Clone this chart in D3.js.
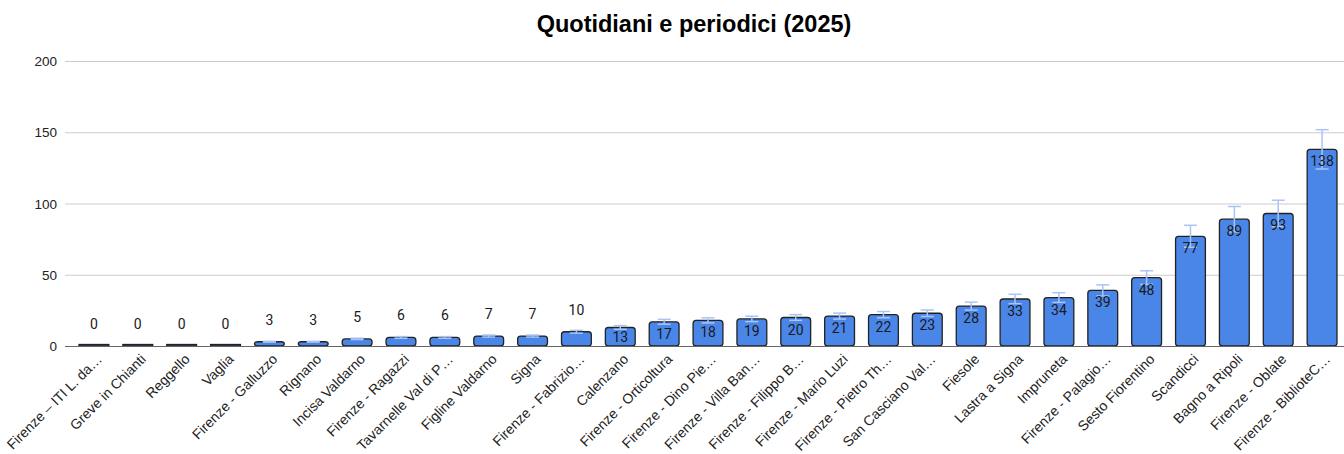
<!DOCTYPE html>
<html>
<head>
<meta charset="utf-8">
<script src="https://cdn.jsdelivr.net/npm/d3@7"></script>
<style>
  body { margin: 0; background: #fff; }
  svg { display: block; }
</style>
</head>
<body>
<svg id="chart" width="1344" height="454"></svg>
<script>
// data
const categories = [
    "Firenze – ITI L. da…", "Greve in Chianti", "Reggello", "Vaglia",
    "Firenze - Galluzzo", "Rignano", "Incisa Valdarno", "Firenze - Ragazzi",
    "Tavarnelle Val di P…", "Figline Valdarno", "Signa", "Firenze - Fabrizio…",
    "Calenzano", "Firenze - Orticoltura", "Firenze - Dino Pie…", "Firenze - Villa Ban…",
    "Firenze - Filippo B…", "Firenze - Mario Luzi", "Firenze - Pietro Th…", "San Casciano Val…",
    "Fiesole", "Lastra a Signa", "Impruneta", "Firenze - Palagio…",
    "Sesto Fiorentino", "Scandicci", "Bagno a Ripoli", "Firenze - Oblate",
    "Firenze - BiblioteC…"
];
const values = [0, 0, 0, 0, 3, 3, 5, 6, 6, 7, 7, 10, 13, 17, 18, 19, 20, 21, 22, 23, 28, 33, 34, 39, 48, 77, 89, 93, 138];
const yTicks = [0, 50, 100, 150, 200];
const errorPct = 0.1;
const title = "Quotidiani e periodici (2025)";

const width = 1344, height = 454;
const svg = d3.select("#chart");

let x = d3.scaleBand()
    .domain(categories)
    .range([72, 1344])
    .paddingInner(0.32)
    .paddingOuter(0.16);

let y = d3.scaleLinear()
    .domain([0, 200])
    .range([346, 61]);

// title
svg.append("text")
    .attr("x", 694)
    .attr("y", 32)
    .style("text-anchor", "middle")
    .style("font-family", "'Liberation Sans', Arial, sans-serif")
    .style("font-weight", "bold")
    .style("font-size", "23.5px")
    .style("fill", "#000")
    .text(title);

// gridlines + y labels
const grid = svg.append("g");
grid.selectAll("line")
    .data(yTicks.filter(d => d > 0))
    .enter().append("line")
    .attr("x1", 65).attr("x2", width)
    .attr("y1", d => y(d) + 0.5).attr("y2", d => y(d) + 0.5)
    .attr("stroke", "#cccccc")
    .attr("stroke-width", 1);

grid.selectAll("text")
    .data(yTicks)
    .enter().append("text")
    .attr("x", 57)
    .attr("y", d => y(d) + 5)
    .style("text-anchor", "end")
    .style("font-family", "'Liberation Sans', Arial, sans-serif")
    .style("font-size", "13.5px")
    .style("fill", "#222")
    .text(d => d);

// bars (zero values still get a thin outlined bar)
svg.append("g")
    .selectAll("rect")
    .data(values)
    .enter().append("rect")
    .attr("x", (d, i) => x(categories[i]))
    .attr("y", d => Math.min(y(d), y(0) - 1.5))
    .attr("width", x.bandwidth())
    .attr("height", d => Math.max(y(0) - y(d), 1.5))
    .attr("rx", d => d > 0 ? 3 : 0)
    .attr("fill", "#4a86e8")
    .attr("stroke", "#222")
    .attr("stroke-width", 1.3);

// baseline
svg.append("line")
    .attr("x1", 65).attr("x2", width)
    .attr("y1", y(0) + 0.5).attr("y2", y(0) + 0.5)
    .attr("stroke", "#666")
    .attr("stroke-width", 1.2);

// error bars (±10%)
const err = svg.append("g")
    .attr("stroke", "#a9c5f5")
    .attr("stroke-width", 1.5)
    .selectAll("g")
    .data(values.map((v, i) => ({ v, c: categories[i] })).filter(d => d.v > 0))
    .enter().append("g")
    .attr("transform", d => `translate(${x(d.c) + x.bandwidth() / 2},0)`);

err.append("line")
    .attr("y1", d => y(d.v * (1 + errorPct)))
    .attr("y2", d => y(d.v * (1 - errorPct)));
err.append("line")
    .attr("x1", -6.5).attr("x2", 6.5)
    .attr("y1", d => y(d.v * (1 + errorPct)))
    .attr("y2", d => y(d.v * (1 + errorPct)));
err.append("line")
    .attr("x1", -6.5).attr("x2", 6.5)
    .attr("y1", d => y(d.v * (1 - errorPct)))
    .attr("y2", d => y(d.v * (1 - errorPct)));

// value labels
svg.append("g")
    .selectAll("text")
    .data(values)
    .enter().append("text")
    .attr("x", (d, i) => x(categories[i]) + x.bandwidth() / 2)
    .attr("y", d => {
        let h = y(0) - y(d);
        if (h < 16) return y(d) - 17;
        return Math.min(y(d) + 17, y(0) - 4.5);
    })
    .style("text-anchor", "middle")
    .style("font-family", "Roboto, 'Noto Sans', sans-serif")
    .style("font-size", "14px")
    .style("fill", "#1a1a1a")
    .text(d => d);

// x labels
svg.append("g")
    .selectAll("text")
    .data(categories)
    .enter().append("text")
    .attr("transform", d => `translate(${x(d) + x.bandwidth() / 2 + 9},${360}) rotate(-45)`)
    .style("text-anchor", "end")
    .style("font-family", "'Liberation Sans', Arial, sans-serif")
    .style("font-size", "14px")
    .style("fill", "#222")
    .text(d => d);
</script>
</body>
</html>
